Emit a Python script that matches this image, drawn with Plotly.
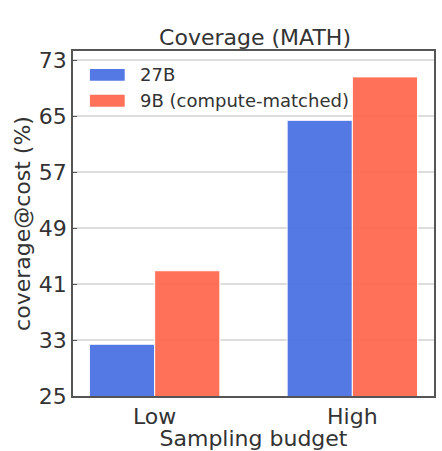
import plotly.graph_objects as go

categories = ["Low", "High"]
series_names = ["27B", "9B (compute-matched)"]
values_27b = [32.4, 64.4]
values_9b = [42.9, 70.6]
y_ticks = [25, 33, 41, 49, 57, 65, 73]
colors = ["rgba(65,105,225,0.9)", "rgba(255,99,71,0.9)"]

FONT = "DejaVu Sans"
TXT = "#333333"
FS = 22

fig = go.Figure()
for name, vals, col in zip(series_names, [values_27b, values_9b], colors):
    fig.add_trace(go.Bar(
        x=categories, y=vals, name=name,
        marker=dict(color=col, line=dict(color="white", width=1)),
        showlegend=False,
    ))

fig.update_layout(
    width=442, height=451,
    margin=dict(l=73, r=6, t=51, b=53),
    paper_bgcolor="white", plot_bgcolor="white",
    barmode="group", bargap=0.34, bargroupgap=0,
    font=dict(family=FONT, color=TXT, size=FS),
    title=dict(text="Coverage (MATH)", x=0.577, xanchor="center",
               y=1 - 37 / 451, yanchor="middle",
               font=dict(size=FS, family=FONT, color=TXT)),
)

fig.update_xaxes(
    range=[-0.413, 1.413],
    showgrid=False,
    showline=True, linecolor="#555555", linewidth=1.5, mirror=True,
    ticks="", tickfont=dict(size=FS, family=FONT, color=TXT),
    title=dict(text="Sampling budget", font=dict(size=FS, family=FONT, color=TXT), standoff=0),
)
fig.update_yaxes(
    range=[25, 74.3],
    tickvals=y_ticks,
    showgrid=True, gridcolor="#dddddd", gridwidth=1.5,
    showline=True, linecolor="#555555", linewidth=1.5, mirror=True,
    ticks="inside", ticklen=4, tickcolor="#555555",
    zeroline=False,
    tickfont=dict(size=FS, family=FONT, color=TXT),
    title=dict(text="coverage@cost (%)", font=dict(size=FS, family=FONT, color=TXT), standoff=2),
)

# Legend (manual, matplotlib style wide patches)
legend_rows = [(series_names[0], colors[0], 75), (series_names[1], colors[1], 101)]
for name, col, yc in legend_rows:
    fig.add_shape(type="rect", xref="paper", yref="paper",
                  x0=(90 - 73) / 363, x1=(125 - 73) / 363,
                  y0=1 - (yc - 6 - 51) / 347, y1=1 - (yc + 6 - 51) / 347,
                  fillcolor=col, line=dict(width=0))
    fig.add_annotation(text=name, xref="paper", yref="paper",
                       x=(138 - 73) / 363, y=1 - (yc - 51) / 347,
                       xanchor="left", yanchor="middle", showarrow=False,
                       font=dict(size=18, family=FONT, color=TXT))

fig.write_html("out.html")
